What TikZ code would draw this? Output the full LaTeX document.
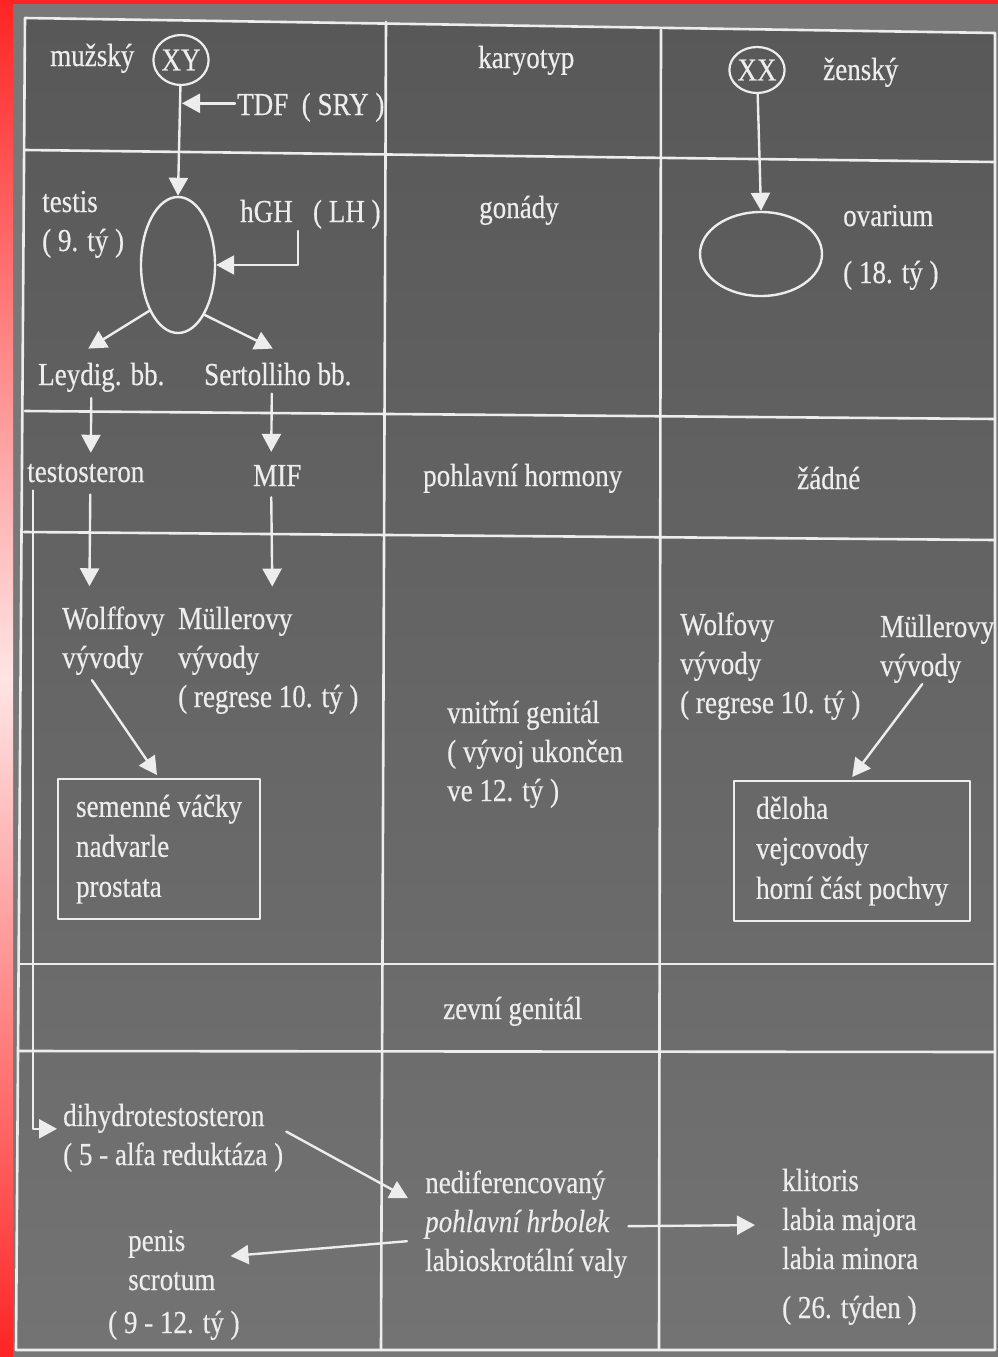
\documentclass[tikz,border=0pt]{standalone}
\usepackage{fontspec}
\setmainfont{Liberation Serif}[FakeStretch=0.845, FakeBold=0.4]
\usetikzlibrary{positioning, shapes.geometric, arrows.meta, calc}

\definecolor{chalk}{HTML}{EDEDED}
\definecolor{boardtop}{HTML}{585858}
\definecolor{boardbot}{HTML}{737373}
\definecolor{margin}{HTML}{787878}
\definecolor{slide}{HTML}{FF2424}

\begin{document}
\begin{tikzpicture}[x=1pt, y=-1pt, line cap=round, line join=round,
    txt/.style={text=chalk, font=\fontsize{32}{39}\selectfont,
                inner sep=0pt, anchor=base west, align=left},
    rule/.style={draw=chalk, line width=2.6pt},
    arr/.style={draw=chalk, line width=2.4pt,
                -{Triangle[length=18pt, width=19pt]}},
    organ/.style={draw=chalk, line width=2.4pt, ellipse, inner sep=0pt},
    karyo/.style={draw=chalk, line width=2.2pt, ellipse, inner sep=0pt,
                  text=chalk, font=\fontsize{32}{36}\selectfont},
    listbox/.style={draw=chalk, line width=2.2pt, anchor=north west,
                    text=chalk, font=\fontsize{32}{40}\selectfont,
                    align=left, minimum height=140pt}]

  \useasboundingbox (0,0) rectangle (998,1357);

  % ── slide background ─────────────────────────────────────────────────────

  \fill[margin] (0,0) rectangle (998,1357);
  \shade[top color=boardtop, bottom color=boardbot]
    (25,18) -- (995,33) -- (995,1350) -- (16,1350) -- cycle;
  \shade[top color=slide, bottom color=slide, middle color=white!88!slide]
    (0,0) rectangle (13,1357);
  \fill[slide] (0,0) rectangle (998,4);

  % ── table rules ──────────────────────────────────────────────────────────

  \draw[rule] (25,18) -- (995,33) -- (995,1350) -- (16,1350) -- cycle;
  \draw[rule] (25,150) -- (995,162);
  \draw[rule] (25,411) -- (995,419);
  \draw[rule] (24,532) -- (995,540);
  \draw[rule] (20,964) -- (995,964);
  \draw[rule] (18,1051) -- (995,1052);
  \draw[rule] (386,22) -- (381,1350);
  \draw[rule] (661,30) -- (659,1350);

  % ── karyotyp ─────────────────────────────────────────────────────────────

  \node[txt] (male) at (50,66) {mužský};
  \node[karyo, minimum width=51pt, minimum height=50pt] (xy) at (181,60) {XY};
  \node[txt] (tdf) at (237,115) {TDF\ \ ( SRY )};
  \node[txt] (karyotype) at (478,68) {karyotyp};
  \node[karyo, minimum width=54pt, minimum height=46pt] (xx) at (757,70) {XX};
  \node[txt] (female) at (823,80) {ženský};

  % ── gonády ───────────────────────────────────────────────────────────────

  \node[txt] (testislbl) at (42,251) {testis\\( 9. tý )};
  \node[organ, minimum width=74pt, minimum height=136pt] (testis) at (178,265) {};
  \node[txt] (hgh) at (240,222) {hGH\ \ \ ( LH )};
  \node[txt] (leydig) at (38,385) {Leydig. bb.};
  \node[txt] (sert) at (204,385) {Sertolliho bb.};
  \node[txt] (gonads) at (479,218) {gonády};
  \node[organ, minimum width=122pt, minimum height=84pt] (ovary) at (761,254) {};
  \node[txt] (ovarylbl) at (843,283) {ovarium\\[18pt]( 18. tý )};

  \draw[arr] (xy) -- (testis.north);
  \draw[arr] ($(tdf.west)+(-2,-4)$) -- ($(tdf.west -| xy.south)+(1,-4)$);
  \draw[arr] ($(hgh.south west)+(58,2)$) |- (testis.east);
  \draw[arr] (testis.238) -- ($(leydig.north)+(-13,-14)$);
  \draw[arr] (testis.-62) -- ($(sert.north)+(-5,-14)$);
  \draw[arr] (xx) -- (ovary.north);

  % ── pohlavní hormony ─────────────────────────────────────────────────────

  \node[txt] (testo) at (27,482) {testosteron};
  \node[txt] (mif) at (253,486) {MIF};
  \node[txt] (hormones) at (423,486) {pohlavní hormony};
  \node[txt] (none) at (797,489) {žádné};

  \draw[arr] ($(leydig.south)+(-10,6)$) -- ($(testo.north)+(5,-11)$);
  \draw[arr] ($(sert.south)+(-6,8)$) -- ($(mif.north)+(-6,-13)$);

  % ── vnitřní genitál ──────────────────────────────────────────────────────

  \node[txt] (wolff) at (62,668) {Wolffovy\\vývody};
  \node[txt] (muller) at (178,707) {Müllerovy\\vývody\\( regrese 10. tý )};
  \node[listbox, inner xsep=18pt] (maleint) at (57,778)
    {semenné váčky\\nadvarle\\prostata};
  \node[txt] (internal) at (447,801) {vnitřní genitál\\( vývoj ukončen\\ve 12. tý )};
  \node[txt] (wolffr) at (680,713) {Wolfovy\\vývody\\( regrese 10. tý )};
  \node[txt] (mullerr) at (880,676) {Müllerovy\\vývody};
  \node[listbox, inner xsep=22pt] (femaleint) at (733,780)
    {děloha\\vejcovody\\horní část pochvy};

  \draw[arr] ($(testo.south)+(4.5,12)$) -- ($(wolff.north)+(-24,-20)$);
  \draw[arr] ($(mif.south)+(-6,11)$) -- ($(muller.north)+(4,-20)$);
  \draw[arr] ($(wolff.south west)+(30,5)$) -- ($(maleint.north west)+(100,-3)$);
  \draw[arr] ($(mullerr.south)+(-15,1)$) -- ($(femaleint.north)+(0,-3)$);

  % ── zevní genitál ────────────────────────────────────────────────────────

  \node[txt] (external) at (443,1019) {zevní genitál};
  \node[txt] (dht) at (63,1165) {dihydrotestosteron\\( 5 - alfa reduktáza )};
  \node[txt] (tubercle) at (425,1271)
    {nediferencovaný\\\textit{pohlavní hrbolek}\\labioskrotální valy};
  \node[txt] (penis) at (128,1290) {penis\\scrotum};
  \node[txt] (penisweek) at (108,1333) {( 9 - 12. tý )};
  \node[txt] (clitoris) at (782,1269) {klitoris\\labia majora\\labia minora};
  \node[txt] (clitweek) at (782,1318) {( 26. týden )};

  \draw[arr] ($(testo.south west)+(6,8)$) |- ($(dht.west)+(-6,-9)$);
  \draw[arr] ($(dht.north east)+(3,28)$) -- ($(tubercle.north west)+(-17,28)$);
  \draw[arr] ($(tubercle.west)+(-18,17)$) -- ($(penis.east)+(15,-4)$);
  \draw[arr] ($(tubercle.east)+(1,2)$) -- ($(clitoris.west)+(-27,6)$);

\end{tikzpicture}
\end{document}
